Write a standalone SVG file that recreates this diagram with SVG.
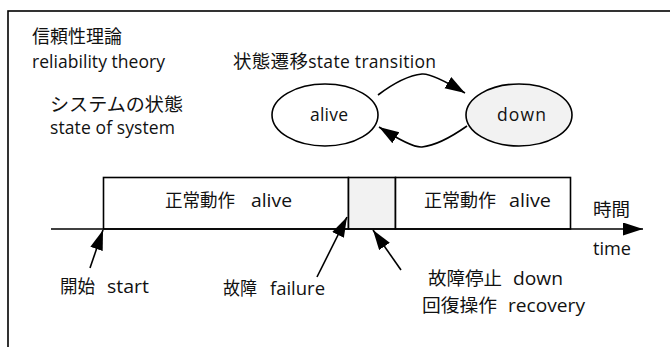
<svg xmlns="http://www.w3.org/2000/svg" width="670" height="347" viewBox="0 0 670 347">
<defs>
<style>
text{font-family:"Open Sans","Noto Sans CJK JP",sans-serif;font-size:17.5px;fill:#111}
.t{font-size:18px}
.j{font-size:18.5px}
.ln{stroke:#000;stroke-width:1.6;fill:none}
.bx{stroke:#000;stroke-width:1.6;fill:#fff}
.gr{fill:#f2f2f2}
</style>
<marker id="ahb" markerUnits="userSpaceOnUse" markerWidth="22" markerHeight="14" refX="20" refY="6.5" orient="auto">
<path d="M0,0 L20,6.5 L0,13 Z" fill="#000"/>
</marker>
</defs>
<rect x="8" y="11" width="700" height="400" fill="#fff" stroke="#000" stroke-width="1.6"/>
<g id="titles">
<text class="j" x="32" y="43" textLength="90" lengthAdjust="spacingAndGlyphs">信頼性理論</text>
<text x="32" y="68" textLength="133" lengthAdjust="spacing">reliability theory</text>
<text class="j" x="50" y="111" textLength="133" lengthAdjust="spacingAndGlyphs">システムの状態</text>
<text x="50" y="134" textLength="125" lengthAdjust="spacing">state of system</text>
<text x="233" y="68" textLength="203" lengthAdjust="spacing"><tspan class="j">状態遷移</tspan>state transition</text>
</g>
<g id="node-alive">
<ellipse cx="325" cy="115" rx="53" ry="31" class="bx"/>
<text x="310" y="121" textLength="38" lengthAdjust="spacing">alive</text>
</g>
<g id="node-down">
<ellipse cx="519" cy="115" rx="53" ry="31" class="bx gr"/>
<text x="497" y="121" textLength="49" lengthAdjust="spacing">down</text>
</g>
<g id="timeline">
<rect x="103.5" y="177.5" width="245" height="51.5" class="bx"/>
<rect x="348.5" y="177.5" width="47" height="51.5" class="bx gr"/>
<rect x="395.5" y="177.5" width="175" height="51.5" class="bx"/>
<text class="t" y="207"><tspan x="165" textLength="70" lengthAdjust="spacingAndGlyphs">正常動作</tspan><tspan x="251" textLength="41" lengthAdjust="spacingAndGlyphs">alive</tspan></text>
<text class="t" y="207"><tspan x="424" textLength="72" lengthAdjust="spacingAndGlyphs">正常動作</tspan><tspan x="509" textLength="42" lengthAdjust="spacingAndGlyphs">alive</tspan></text>
<text class="t" x="593" y="216" textLength="37" lengthAdjust="spacingAndGlyphs">時間</text>
<text class="t" x="593" y="255" textLength="38" lengthAdjust="spacingAndGlyphs">time</text>
</g>
<g id="labels">
<text class="t" y="293"><tspan x="60" textLength="35" lengthAdjust="spacingAndGlyphs">開始</tspan><tspan x="107" textLength="42" lengthAdjust="spacingAndGlyphs">start</tspan></text>
<text class="t" y="295"><tspan x="223" textLength="34" lengthAdjust="spacingAndGlyphs">故障</tspan><tspan x="270" textLength="55" lengthAdjust="spacingAndGlyphs">failure</tspan></text>
<text class="t" y="285"><tspan x="428" textLength="74" lengthAdjust="spacingAndGlyphs">故障停止</tspan><tspan x="513" textLength="50" lengthAdjust="spacingAndGlyphs">down</tspan></text>
<text class="t" y="312"><tspan x="422" textLength="75" lengthAdjust="spacingAndGlyphs">回復操作</tspan><tspan x="508" textLength="77" lengthAdjust="spacingAndGlyphs">recovery</tspan></text>
</g>
<g id="connectors">
<line x1="51" y1="229" x2="643" y2="229" class="ln" marker-end="url(#ahb)"/>
<path d="M378,95 Q403,76 422,74 Q432,73 465,93" class="ln" marker-end="url(#ahb)"/>
<path d="M467,126 Q440,145 422,147 Q412,148 379,127" class="ln" marker-end="url(#ahb)"/>
<line x1="90" y1="268" x2="103" y2="230" class="ln" marker-end="url(#ahb)"/>
<line x1="317" y1="277" x2="347" y2="217" class="ln" marker-end="url(#ahb)"/>
<line x1="401" y1="270" x2="373" y2="230" class="ln" marker-end="url(#ahb)"/>
</g>
</svg>
